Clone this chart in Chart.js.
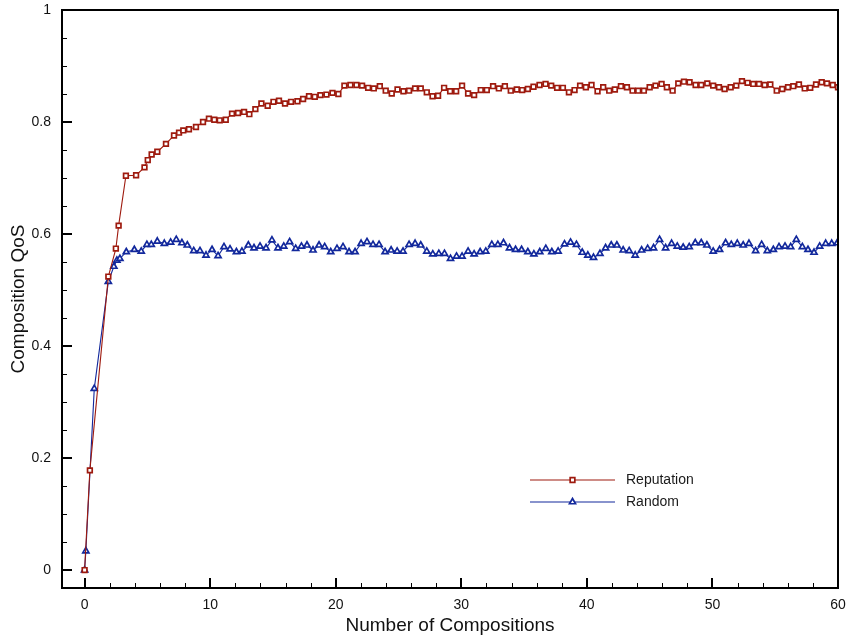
<!DOCTYPE html>
<html>
<head>
<meta charset="utf-8">
<script src="https://cdn.jsdelivr.net/npm/chart.js@4.4.1/dist/chart.umd.min.js"></script>
<style>
  html, body { margin: 0; padding: 0; background: #fff; }
  #wrap { width: 848px; height: 639px; }
</style>
</head>
<body>
<div id="wrap"><canvas id="c" width="848" height="639"></canvas></div>
<script>
// ---- Data ----
const seriesNames = ["Reputation", "Random"];

const reputationX = [0, 0.42, 1.89, 2.49, 2.71, 3.29, 4.10, 4.77, 5.03, 5.34, 5.79, 6.48, 7.12, 7.52, 7.86, 8.31, 8.87, 9.43, 9.90,
  10.33, 10.76, 11.24, 11.74, 12.22, 12.70, 13.12, 13.60, 14.08, 14.58, 15.04, 15.48, 15.96, 16.44, 16.95, 17.40, 17.87, 18.33, 18.78, 19.26, 19.74,
  20.21, 20.69, 21.17, 21.65, 22.10, 22.58, 23.03, 23.51, 23.98, 24.46, 24.92, 25.39, 25.84, 26.32, 26.77, 27.25, 27.71, 28.15, 28.63, 29.11, 29.59,
  30.06, 30.54, 31.02, 31.55, 32.03, 32.53, 32.99, 33.47, 33.94, 34.42, 34.85, 35.30, 35.75, 36.23, 36.71, 37.16, 37.63, 38.09, 38.57, 39.02, 39.46, 39.92,
  40.37, 40.85, 41.30, 41.78, 42.23, 42.71, 43.19, 43.64, 44.09, 44.54, 45.00, 45.47, 45.95, 46.37, 46.83, 47.28, 47.73, 48.18, 48.66, 49.11, 49.59,
  50.06, 50.52, 50.97, 51.45, 51.90, 52.35, 52.80, 53.25, 53.71, 54.16, 54.61, 55.12, 55.56, 56.02, 56.44, 56.89, 57.35, 57.79, 58.25, 58.70, 59.12, 59.58, 60.00];
const reputationY = [0, 0.178, 0.524, 0.574, 0.615, 0.704, 0.705, 0.719, 0.732, 0.742, 0.747, 0.761, 0.776, 0.781, 0.785, 0.787, 0.791, 0.800, 0.806,
  0.804, 0.803, 0.804, 0.815, 0.816, 0.818, 0.814, 0.823, 0.833, 0.829, 0.836, 0.838, 0.833, 0.836, 0.837, 0.841, 0.846, 0.845, 0.848, 0.849, 0.852,
  0.850, 0.865, 0.866, 0.866, 0.865, 0.861, 0.860, 0.864, 0.856, 0.851, 0.858, 0.855, 0.856, 0.860, 0.860, 0.853, 0.846, 0.847, 0.861, 0.855, 0.855,
  0.865, 0.851, 0.848, 0.857, 0.857, 0.864, 0.860, 0.864, 0.856, 0.858, 0.857, 0.859, 0.863, 0.866, 0.868, 0.865, 0.861, 0.861, 0.853, 0.857, 0.865, 0.862,
  0.866, 0.855, 0.862, 0.856, 0.858, 0.864, 0.862, 0.856, 0.856, 0.856, 0.862, 0.865, 0.868, 0.862, 0.856, 0.869, 0.872, 0.871, 0.866, 0.866, 0.869,
  0.865, 0.862, 0.859, 0.862, 0.865, 0.873, 0.870, 0.868, 0.868, 0.866, 0.867, 0.856, 0.859, 0.862, 0.864, 0.867, 0.860, 0.861, 0.867, 0.871, 0.869, 0.866, 0.862];

const randomX = [0, 0.10, 0.77, 1.89, 2.33, 2.57, 2.81, 3.32, 3.96, 4.51, 4.96, 5.31, 5.79, 6.35, 6.85, 7.30, 7.75, 8.18, 8.69, 9.19, 9.67,
  10.15, 10.63, 11.10, 11.58, 12.09, 12.53, 13.04, 13.49, 13.97, 14.45, 14.92, 15.40, 15.86, 16.33, 16.81, 17.27, 17.71, 18.19, 18.67, 19.12, 19.60,
  20.10, 20.58, 21.06, 21.54, 22.02, 22.49, 22.97, 23.45, 23.93, 24.41, 24.89, 25.36, 25.84, 26.32, 26.77, 27.25, 27.73, 28.21, 28.66, 29.14, 29.62,
  30.06, 30.54, 31.02, 31.50, 31.95, 32.43, 32.91, 33.36, 33.84, 34.32, 34.80, 35.30, 35.78, 36.25, 36.73, 37.21, 37.71, 38.22, 38.70, 39.17, 39.63,
  40.08, 40.53, 41.04, 41.49, 41.94, 42.39, 42.89, 43.37, 43.85, 44.36, 44.84, 45.31, 45.79, 46.27, 46.75, 47.20, 47.67, 48.15, 48.63, 49.11, 49.56,
  50.06, 50.57, 51.05, 51.50, 51.98, 52.45, 52.91, 53.44, 53.92, 54.37, 54.85, 55.30, 55.78, 56.23, 56.68, 57.16, 57.61, 58.09, 58.54, 59.02, 59.50, 59.94];
const randomY = [0, 0.034, 0.324, 0.515, 0.542, 0.553, 0.556, 0.568, 0.572, 0.569, 0.581, 0.581, 0.587, 0.583, 0.585, 0.590, 0.584, 0.580, 0.570, 0.570, 0.562,
  0.572, 0.561, 0.577, 0.573, 0.568, 0.569, 0.580, 0.575, 0.578, 0.575, 0.589, 0.575, 0.578, 0.586, 0.574, 0.578, 0.580, 0.571, 0.580, 0.577, 0.568,
  0.574, 0.577, 0.568, 0.568, 0.583, 0.586, 0.581, 0.581, 0.568, 0.571, 0.569, 0.569, 0.581, 0.583, 0.580, 0.569, 0.564, 0.565, 0.565, 0.556, 0.560,
  0.560, 0.569, 0.564, 0.568, 0.569, 0.581, 0.581, 0.584, 0.575, 0.572, 0.572, 0.568, 0.564, 0.568, 0.574, 0.568, 0.569, 0.582, 0.585, 0.581, 0.567,
  0.562, 0.558, 0.565, 0.575, 0.580, 0.580, 0.571, 0.570, 0.562, 0.571, 0.574, 0.575, 0.590, 0.575, 0.583, 0.578, 0.576, 0.577, 0.584, 0.584, 0.580,
  0.569, 0.572, 0.584, 0.581, 0.583, 0.580, 0.583, 0.570, 0.581, 0.570, 0.572, 0.577, 0.578, 0.577, 0.590, 0.577, 0.572, 0.567, 0.578, 0.583, 0.583, 0.584];

const xTicks = [0, 10, 20, 30, 40, 50, 60];
const yTicks = [0, 0.2, 0.4, 0.6, 0.8, 1];
const xMinorStep = 2;
const yMinorStep = 0.05;
const xTitle = "Number of Compositions";
const yTitle = "Composition QoS";

// ---- Styling ----
const RED = '#9e1a0e';
const BLUE = '#12289c';
const FONT = "'Liberation Sans', Arial, Helvetica, sans-serif";
Chart.defaults.font.family = FONT;
Chart.defaults.color = '#111';

function pts(xs, ys) { return xs.map((x, i) => ({ x: x, y: ys[i] })); }

const frameTicks = {
  id: 'frameTicks',
  afterDraw(chart) {
    const { ctx, chartArea: a, scales: { x, y } } = chart;
    ctx.save();
    ctx.strokeStyle = '#000';
    ctx.lineWidth = 1;
    ctx.beginPath();
    for (let v = xTicks[0]; v <= xTicks[xTicks.length - 1] + 1e-9; v += xMinorStep) {
      const px = Math.round(x.getPixelForValue(v)) + 0.5;
      ctx.moveTo(px, a.bottom); ctx.lineTo(px, a.bottom - 5);
    }
    for (let v = yTicks[0]; v <= yTicks[yTicks.length - 1] + 1e-9; v += yMinorStep) {
      const py = Math.round(y.getPixelForValue(v)) + 0.5;
      ctx.moveTo(a.left, py); ctx.lineTo(a.left + 5, py);
    }
    ctx.stroke();
    ctx.lineWidth = 2;
    ctx.beginPath();
    xTicks.forEach(v => {
      const px = Math.round(x.getPixelForValue(v));
      ctx.moveTo(px, a.bottom); ctx.lineTo(px, a.bottom - 10);
    });
    yTicks.forEach(v => {
      const py = Math.round(y.getPixelForValue(v));
      ctx.moveTo(a.left, py); ctx.lineTo(a.left + 10, py);
    });
    ctx.stroke();
    ctx.lineWidth = 2;
    ctx.strokeRect(a.left, a.top, a.right - a.left, a.bottom - a.top);
    ctx.restore();
  }
};

const customLegend = {
  id: 'customLegend',
  afterDraw(chart) {
    const { ctx } = chart;
    const items = chart.data.datasets;
    const x0 = 530, x1 = 615, y0 = 480, dy = 22;
    ctx.save();
    items.forEach((ds, i) => {
      const yy = y0 + i * dy;
      ctx.strokeStyle = ds.borderColor;
      ctx.lineWidth = 1.2;
      ctx.beginPath(); ctx.moveTo(x0, yy); ctx.lineTo(x1, yy); ctx.stroke();
      ctx.fillStyle = '#fff';
      ctx.strokeStyle = ds.borderColor;
      ctx.lineWidth = ds.pointBorderWidth;
      Chart.helpers.drawPoint(ctx, {
        pointStyle: ds.pointStyle, radius: ds.pointRadius, borderWidth: ds.pointBorderWidth, rotation: 0
      }, (x0 + x1) / 2, yy);
      ctx.fillStyle = '#1a1a1a';
      ctx.font = "14px " + FONT;
      ctx.textAlign = 'left';
      ctx.textBaseline = 'middle';
      ctx.fillText(ds.label, 626, yy);
    });
    ctx.restore();
  }
};

new Chart(document.getElementById('c'), {
  type: 'line',
  data: {
    datasets: [
      {
        label: seriesNames[0],
        data: pts(reputationX, reputationY),
        borderColor: RED,
        backgroundColor: '#fff',
        borderWidth: 1.1,
        pointStyle: 'rect',
        pointRadius: 3.3,
        pointBorderWidth: 1.7,
        pointBackgroundColor: '#fff',
        pointBorderColor: RED,
        tension: 0
      },
      {
        label: seriesNames[1],
        data: pts(randomX, randomY),
        borderColor: BLUE,
        backgroundColor: '#fff',
        borderWidth: 1.1,
        pointStyle: 'triangle',
        pointRadius: 3.5,
        pointBorderWidth: 1.7,
        pointBackgroundColor: '#fff',
        pointBorderColor: BLUE,
        tension: 0
      }
    ]
  },
  options: {
    responsive: false,
    animation: false,
    devicePixelRatio: 1,
    layout: { padding: { top: 10, right: 10, left: 0, bottom: 0 } },
    plugins: { legend: { display: false }, tooltip: { enabled: false } },
    scales: {
      x: {
        type: 'linear',
        min: -1.8,
        max: 60,
        grid: { display: false, drawTicks: false },
        border: { display: false },
        ticks: { autoSkip: false, maxRotation: 0, padding: 9, font: { size: 14 }, color: '#111' },
        afterBuildTicks: s => { s.ticks = xTicks.map(v => ({ value: v })); },
        afterFit: s => { s.height = 51; s.paddingLeft = 0; s.paddingRight = 0; },
        title: { display: true, text: xTitle, font: { size: 19 }, color: '#111', padding: { top: 0, bottom: 2 } }
      },
      y: {
        type: 'linear',
        min: -0.032,
        max: 1.0,
        grid: { display: false, drawTicks: false },
        border: { display: false },
        ticks: { autoSkip: false, padding: 11, font: { size: 14 }, color: '#111', callback: v => String(v) },
        afterBuildTicks: s => { s.ticks = yTicks.map(v => ({ value: v })); },
        afterFit: s => { s.width = 62; s.paddingTop = 0; s.paddingBottom = 0; },
        title: { display: true, text: yTitle, font: { size: 19 }, color: '#111', padding: { top: 7, bottom: 0 } }
      }
    }
  },
  plugins: [frameTicks, customLegend]
});
</script>
</body>
</html>
